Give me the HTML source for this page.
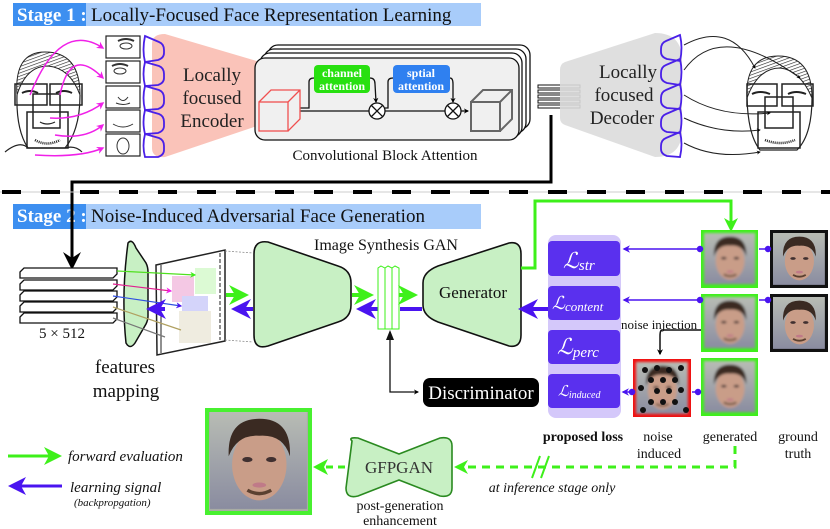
<!DOCTYPE html>
<html><head><meta charset="utf-8"><style>
html,body{margin:0;padding:0;background:#fff}
svg{display:block}
text{font-family:"Liberation Serif",serif}
</style></head><body>
<svg width="830" height="529" viewBox="0 0 830 529" xmlns="http://www.w3.org/2000/svg">
<defs>
<marker id="ag" viewBox="0 0 10 10" refX="8" refY="5" markerWidth="5" markerHeight="5" orient="auto"><path d="M0,0L10,5L0,10L3,5z" fill="#3ef01a"/></marker>
<marker id="ab" viewBox="0 0 10 10" refX="8" refY="5" markerWidth="5" markerHeight="5" orient="auto"><path d="M0,0L10,5L0,10L3,5z" fill="#4a14f0"/></marker>
<marker id="ak" viewBox="0 0 10 10" refX="8" refY="5" markerWidth="4" markerHeight="4" orient="auto"><path d="M0,0L10,5L0,10L3,5z" fill="#000"/></marker>
<marker id="am" viewBox="0 0 10 10" refX="8" refY="5" markerWidth="5" markerHeight="5" orient="auto"><path d="M0,0L10,5L0,10L3,5z" fill="#f020e8"/></marker>
<linearGradient id="fbg" x1="0" y1="0" x2="0" y2="1"><stop offset="0" stop-color="#b8bcb4"/><stop offset="1" stop-color="#8a8ca0"/></linearGradient>
<pattern id="hatch" width="3" height="3" patternUnits="userSpaceOnUse" patternTransform="rotate(70)"><rect width="3" height="3" fill="#fff"/><line x1="0" y1="0" x2="0" y2="3" stroke="#222" stroke-width="1.2"/></pattern>
<g id="face">
<rect width="57" height="57" fill="url(#fbg)"/>
<ellipse cx="29" cy="31" rx="16" ry="21" fill="#c99d88"/>
<path d="M11,26 Q10,4 29,4 Q48,4 47,26 Q43,13 29,14 Q16,13 11,26z" fill="#3a2a22"/>
<ellipse cx="22" cy="28" rx="3" ry="1.5" fill="#403030"/><ellipse cx="36" cy="28" rx="3" ry="1.5" fill="#403030"/>
<path d="M22,46 Q29,50 36,46" stroke="#5a4030" stroke-width="2" fill="none"/>
<ellipse cx="29" cy="43" rx="4" ry="1.5" fill="#c07a88"/>
</g>
<filter id="bl"><feGaussianBlur stdDeviation="1.6"/></filter>
</defs>

<rect x="13" y="3" width="73" height="23" fill="#3d8ff0"/>
<rect x="86" y="3" width="395" height="23" fill="#a8ccfa"/>
<text x="17" y="21" font-size="19" font-weight="bold" fill="#fff">Stage 1 :</text>
<text x="91" y="21" font-size="19" fill="#111">Locally-Focused Face Representation Learning</text>

<!-- left sketch face -->
<path d="M17,95 Q14,52 45,52 Q80,52 80,95 Q70,68 48,66 Q26,66 17,95z" fill="url(#hatch)" stroke="#222" stroke-width="1"/>
<g fill="none" stroke="#222" stroke-width="1.2">
<path d="M17,95 Q16,130 28,148 L65,148 Q80,130 80,95"/>
<path d="M5,152 Q20,140 28,148 M65,148 Q75,145 82,152"/>
<rect x="15" y="84" width="32" height="21" stroke-width="1.5"/>
<rect x="50" y="84" width="32" height="21" stroke-width="1.5"/>
<rect x="33" y="94" width="27" height="34" stroke-width="1.5"/>
<rect x="27" y="112" width="41" height="36" stroke-width="1.5"/>
<path d="M22,93 Q30,89 38,93 M56,93 Q64,89 72,93" stroke-width="2"/>
<path d="M40,122 Q47,126 55,122"/>
<path d="M35,140 Q47,147 60,140" stroke-width="2.5" stroke-dasharray="1,1"/>
</g>
<!-- right sketch face -->
<path d="M747,98 Q745,56 778,56 Q812,56 812,98 Q800,70 780,68 Q758,68 747,98z" fill="url(#hatch)" stroke="#222" stroke-width="1"/>
<g fill="none" stroke="#222" stroke-width="1.2">
<path d="M747,98 Q748,135 760,150 L797,150 Q812,135 812,98"/>
<rect x="747" y="84" width="30" height="22" stroke-width="1.5"/>
<rect x="782" y="84" width="31" height="22" stroke-width="1.5"/>
<rect x="765" y="97" width="28" height="31" stroke-width="1.5"/>
<rect x="758" y="112" width="42" height="36" stroke-width="1.5"/>
<path d="M752,94 Q760,90 770,94 M788,94 Q796,90 806,94" stroke-width="2"/>
<path d="M765,140 Q780,146 795,140" stroke-width="2.5" stroke-dasharray="1,1"/>
</g>

<path d="M152,44 Q152,34 165,34 L260,62 L260,125 L165,157 Q152,158 152,148z" fill="#f9b8ad" opacity="0.85"/>
<text x="212" y="81" font-size="19" text-anchor="middle" fill="#222">Locally</text>
<text x="212" y="104" font-size="19" text-anchor="middle" fill="#222">focused</text>
<text x="212" y="127" font-size="19" text-anchor="middle" fill="#222">Encoder</text>

<g stroke="#222" stroke-width="1.2" fill="#fff">
<rect x="106" y="36" width="34" height="22"/><rect x="106" y="61" width="34" height="22"/>
<rect x="106" y="86" width="34" height="22"/><rect x="106" y="110" width="34" height="22"/>
<rect x="106" y="134" width="34" height="22"/>
</g>
<g fill="none" stroke="#333" stroke-width="1">
<ellipse cx="126" cy="46" rx="6" ry="3"/><path d="M118,41 Q126,37 134,41" stroke-width="2"/>
<ellipse cx="120" cy="71" rx="6" ry="3"/><path d="M112,66 Q120,62 128,66" stroke-width="2"/>
<path d="M118,97 Q123,104 128,97 M116,103 Q123,106 130,103"/><path d="M113,124 Q123,130 133,124"/>
<ellipse cx="123" cy="146" rx="6" ry="8"/>
</g>
<g fill="none" stroke="#4a20e8" stroke-width="1.8">
<path d="M145,36 L159,42 Q164,44 164,50 L164,53 Q164,58 158,60 L145,62 Q142,50 145,36z"/>
<path d="M145,62 L159,66 Q164,68 164,74 L164,78 Q164,83 158,85 L145,86 Q142,74 145,62z"/>
<path d="M145,86 L159,90 Q164,92 164,98 L164,102 Q164,107 158,109 L145,110 Q142,98 145,86z"/>
<path d="M145,110 L159,114 Q164,116 164,122 L164,126 Q164,131 158,133 L145,134 Q142,122 145,110z"/>
<path d="M145,134 L159,138 Q164,140 164,146 L164,150 Q164,155 158,157 L145,157 Q142,146 145,134z"/>
</g>
<g fill="none" stroke="#f020e8" stroke-width="1.5" marker-end="url(#am)">
<path d="M30,95 Q60,20 103,48"/><path d="M60,95 Q70,45 103,78"/>
<path d="M50,118 Q80,120 103,103"/><path d="M55,135 Q85,140 103,125"/>
<path d="M35,155 Q80,158 103,148"/>
</g>

<g fill="#fff" stroke="#111" stroke-width="1.3">
<rect x="268" y="45" width="262" height="84" rx="10"/>
<rect x="264" y="49" width="262" height="84" rx="10"/>
<rect x="260" y="53" width="262" height="84" rx="10"/>
</g>
<rect x="255" y="58" width="264" height="82" rx="10" fill="#f0f0f0" stroke="#111" stroke-width="1.3"/>
<rect x="314" y="65" width="56" height="28" rx="4" fill="#28e010"/>
<text x="342" y="77" font-size="12" font-weight="bold" fill="#fff" text-anchor="middle">channel</text>
<text x="342" y="90" font-size="12" font-weight="bold" fill="#fff" text-anchor="middle">attention</text>
<rect x="393" y="65" width="57" height="28" rx="4" fill="#2f80f0"/>
<text x="421" y="77" font-size="12" font-weight="bold" fill="#fff" text-anchor="middle">sptial</text>
<text x="421" y="90" font-size="12" font-weight="bold" fill="#fff" text-anchor="middle">attention</text>
<g fill="none" stroke="#111" stroke-width="1.3">
<path d="M300,111 L369,111 M385,111 L445,111"/>
<path d="M300,108 L309,108 L309,82 Q309,78 314,78"/>
<path d="M370,78 Q375,78 375,84 L376,102" marker-end="url(#ak)"/>
<path d="M385,108 L388,108 L388,82 Q388,78 393,78"/>
<path d="M450,78 Q453,78 453,84 L453,102" marker-end="url(#ak)"/>
<path d="M461,111 L468,111" marker-end="url(#ak)"/>
<circle cx="377" cy="111" r="8" fill="#fff"/><path d="M371,105L383,117M383,105L371,117"/>
<circle cx="453" cy="111" r="8" fill="#fff"/><path d="M447,105L459,117M459,105L447,117"/>
</g>
<g fill="none" stroke="#f05050" stroke-width="1.3">
<rect x="259" y="102" width="29" height="29"/><path d="M259,102 L271,90 L300,90 L300,119 L288,131 M288,102 L300,90"/>
</g>
<g fill="none" stroke="#666" stroke-width="2">
<rect x="471" y="102" width="29" height="29"/><path d="M471,102 L483,90 L512,90 L512,119 L500,131 M500,102 L512,90"/>
</g>
<text x="385" y="160" font-size="15" text-anchor="middle" fill="#111">Convolutional Block Attention</text>

<g fill="#fff" stroke="#111" stroke-width="1">
<rect x="538" y="85" width="42" height="3"/><rect x="538" y="90" width="42" height="3"/>
<rect x="538" y="95" width="42" height="3"/><rect x="538" y="100" width="42" height="3"/>
<rect x="538" y="105" width="42" height="3"/>
</g>

<path d="M565,62 L655,33 Q682,33 682,60 L682,130 Q682,157 655,157 L565,125 Q560,123 560,118 L560,70 Q560,64 565,62z" fill="#dcdcdc" opacity="0.9"/>
<text x="628" y="78" font-size="19" text-anchor="middle" fill="#222">Locally</text>
<text x="624" y="101" font-size="19" text-anchor="middle" fill="#222">focused</text>
<text x="622" y="124" font-size="19" text-anchor="middle" fill="#222">Decoder</text>
<g fill="none" stroke="#4a20e8" stroke-width="1.8">
<path d="M680,35 L666,41 Q661,43 661,49 L661,52 Q661,57 667,59 L680,61 Q683,48 680,35z"/>
<path d="M680,59 L666,65 Q661,67 661,73 L661,76 Q661,81 667,83 L680,85 Q683,72 680,59z"/>
<path d="M680,84 L666,90 Q661,92 661,98 L661,101 Q661,106 667,108 L680,109 Q683,96 680,84z"/>
<path d="M680,108 L666,114 Q661,116 661,122 L661,125 Q661,130 667,132 L680,133 Q683,120 680,108z"/>
<path d="M680,132 L666,138 Q661,140 661,146 L661,149 Q661,154 667,156 L680,157 Q683,144 680,132z"/>
</g>
<g fill="none" stroke="#222" stroke-width="1" marker-end="url(#ak)">
<path d="M684,45 Q730,20 755,68"/><path d="M684,70 Q720,20 800,78"/>
<path d="M684,95 Q720,118 770,113"/><path d="M684,118 Q720,135 760,130"/>
<path d="M684,143 Q715,160 760,152"/>
</g>

<path d="M551,115 L551,182 L72,182 L72,262" fill="none" stroke="#000" stroke-width="3"/>
<path d="M63,252 L72,270 L81,252 L72,258z" fill="#000"/>

<line x1="0" y1="192" x2="830" y2="192" stroke="#ccc" stroke-width="1"/>
<line x1="2" y1="192" x2="830" y2="192" stroke="#000" stroke-width="4" stroke-dasharray="19,20"/>

<rect x="13" y="204" width="73" height="25" fill="#3d8ff0"/>
<rect x="86" y="204" width="395" height="25" fill="#a8ccfa"/>
<text x="17" y="222" font-size="19" font-weight="bold" fill="#fff">Stage 2 :</text>
<text x="91" y="222" font-size="19" fill="#111">Noise-Induced Adversarial Face Generation</text>
<line x1="72" y1="204" x2="72" y2="229" stroke="#000" stroke-width="3"/>

<g fill="#fff" stroke="#111" stroke-width="1.3">
<path d="M20,272 L24,268 L117,268 L117,274 L113,278 L20,278z"/><path d="M20,284 L24,280 L117,280 L117,286 L113,290 L20,290z"/>
<path d="M20,295 L24,291 L117,291 L117,297 L113,301 L20,301z"/><path d="M20,306 L24,302 L117,302 L117,308 L113,312 L20,312z"/>
<path d="M20,317 L24,313 L117,313 L117,319 L113,323 L20,323z"/>
</g>
<text x="62" y="338" font-size="15" text-anchor="middle" fill="#111">5 × 512</text>

<path d="M128,243 Q132,238 136,248 L146,263 Q148,267 148,272 L148,316 Q148,320 146,324 L135,343 Q130,350 126,343 Q121,295 128,243z" fill="#c8f0c4" stroke="#111" stroke-width="1.5"/>
<text x="125" y="373" font-size="19" text-anchor="middle" fill="#111">features</text>
<text x="126" y="397" font-size="19" text-anchor="middle" fill="#111">mapping</text>

<path d="M156,265 L225,250 L225,341 L157,355z" fill="#fff" stroke="#222" stroke-width="1.5"/>
<line x1="161" y1="265" x2="161" y2="353" stroke="#222" stroke-width="1"/>
<line x1="220" y1="253" x2="220" y2="340" stroke="#222" stroke-width="1" stroke-dasharray="4,2"/>
<path d="M225,251 L253,253 M225,340 L253,342" stroke="#888" stroke-width="0.8" stroke-dasharray="2,1.5"/>
<rect x="172" y="276" width="22" height="26" fill="#f4c8e4"/>
<rect x="195" y="268" width="21" height="26" fill="#dcfad4"/>
<rect x="182" y="296" width="26" height="22" fill="#d4d4fa"/>
<rect x="179" y="311" width="32" height="32" fill="#efece0"/>
<g fill="none" stroke-width="1.2">
<path d="M117,271 L195,275" stroke="#50e020" marker-end="url(#ag)"/>
<path d="M113,284 L171,291" stroke="#e02090" marker-end="url(#am)"/>
<path d="M113,296 L181,306" stroke="#3050e0" marker-end="url(#ab)"/>
<path d="M113,307 L181,330" stroke="#b0a060"/>
<path d="M113,318 L165,337" stroke="#777"/>
</g>
<path d="M226,295 L245,295" stroke="#3ef01a" stroke-width="4" marker-end="url(#ag)"/>
<path d="M253,309 L235,309" stroke="#4a14f0" stroke-width="4" marker-end="url(#ab)"/>
<path d="M165,309 L150,309" stroke="#4a14f0" stroke-width="4" marker-end="url(#ab)"/>

<path d="M254,254 Q254,240 268,242 L338,266 Q351,270 351,283 L351,305 Q351,318 338,322 L268,346 Q254,350 254,335z" fill="#c8f0c4" stroke="#111" stroke-width="1.6"/>
<text x="386" y="250" font-size="16" text-anchor="middle" fill="#111">Image Synthesis GAN</text>
<path d="M352,295 L370,295" stroke="#3ef01a" stroke-width="4" marker-end="url(#ag)"/>
<path d="M378,309 L360,309" stroke="#4a14f0" stroke-width="4" marker-end="url(#ab)"/>
<g fill="#fff" stroke="#3ef01a" stroke-width="1">
<path d="M378,268 L381,266 L385,268 L385,329 L378,329z"/>
<path d="M385,268 L388,266 L392,268 L392,329 L385,329z"/>
<path d="M392,268 L395,266 L399,268 L399,329 L392,329z"/>
</g>
<path d="M399,295 L414,295" stroke="#3ef01a" stroke-width="4" marker-end="url(#ag)"/>
<path d="M422,309 L400,309" stroke="#4a14f0" stroke-width="4"/>

<path d="M509,243 Q521,241 521,254 L521,335 Q521,348 509,346 L438,322 Q423,316 423,305 L423,283 Q423,272 438,266z" fill="#c8f0c4" stroke="#111" stroke-width="1.6"/>
<text x="473" y="298" font-size="17" text-anchor="middle" fill="#111">Generator</text>
<path d="M548,309 L522,309" stroke="#4a14f0" stroke-width="4" marker-end="url(#ab)"/>
<path d="M521,268 L535,268 L535,201 L731,201 L731,222" fill="none" stroke="#3ef01a" stroke-width="3"/>
<path d="M724,218 L731,232 L738,218 L731,222z" fill="#3ef01a"/>

<path d="M390,332 L390,392 L418,392" fill="none" stroke="#111" stroke-width="1.3" marker-end="url(#ak)"/>
<path d="M386,340 L390,330 L394,340z" fill="#111"/>
<rect x="423" y="378" width="116" height="29" rx="7" fill="#000"/>
<text x="481" y="399" font-size="19" text-anchor="middle" fill="#fff">Discriminator</text>

<rect x="548" y="235" width="73" height="183" rx="8" fill="#d4c8fa"/>
<g fill="#5a30ee">
<rect x="548" y="241" width="72" height="35" rx="4"/>
<rect x="548" y="286" width="72" height="34" rx="4"/>
<rect x="548" y="330" width="72" height="34" rx="4"/>
<rect x="548" y="374" width="72" height="34" rx="4"/>
</g>
<g fill="#fff" font-style="italic">
<text x="563" y="268" font-size="22">ℒ<tspan font-size="15" dy="2">str</tspan></text>
<text x="552" y="309" font-size="18">ℒ<tspan font-size="13" dy="2">content</tspan></text>
<text x="557" y="354" font-size="22">ℒ<tspan font-size="15" dy="3">perc</tspan></text>
<text x="558" y="396" font-size="15">ℒ<tspan font-size="10" dy="2">induced</tspan></text>
</g>

<rect x="701" y="230" width="57" height="58" fill="#3ef01a"/>
<g transform="translate(704,233) scale(0.9)" filter="url(#bl)"><use href="#face"/></g>
<rect x="701" y="294" width="57" height="58" fill="#3ef01a"/>
<g transform="translate(704,297) scale(0.9)" filter="url(#bl)"><use href="#face"/></g>
<rect x="701" y="358" width="57" height="58" fill="#3ef01a"/>
<g transform="translate(704,361) scale(0.9)" filter="url(#bl)"><use href="#face"/></g>
<rect x="770" y="230" width="58" height="58" fill="#111"/>
<g transform="translate(773,233) scale(0.91)"><use href="#face"/></g>
<rect x="770" y="294" width="58" height="58" fill="#111"/>
<g transform="translate(773,297) scale(0.91)"><use href="#face"/></g>
<rect x="633" y="359" width="58" height="58" fill="#f01010"/>
<g transform="translate(636,362) scale(0.91)" filter="url(#bl)"><use href="#face"/></g>
<g fill="#111">
<circle cx="645" cy="370" r="3"/><circle cx="657" cy="368" r="3"/><circle cx="669" cy="370" r="3"/><circle cx="681" cy="368" r="3"/>
<circle cx="651" cy="380" r="3"/><circle cx="663" cy="380" r="3"/><circle cx="675" cy="380" r="3"/><circle cx="641" cy="388" r="3"/>
<circle cx="657" cy="391" r="3"/><circle cx="669" cy="391" r="3"/><circle cx="681" cy="390" r="3"/><circle cx="651" cy="402" r="3"/>
<circle cx="663" cy="402" r="3"/><circle cx="675" cy="402" r="3"/><circle cx="643" cy="410" r="3"/><circle cx="686" cy="410" r="3"/>
</g>
<g stroke="#4a14f0" stroke-width="1.5" fill="none">
<path d="M700,249 L624,249" marker-end="url(#ab)"/><circle cx="700" cy="249" r="2.5" fill="#4a14f0"/>
<path d="M700,300 L624,300" marker-end="url(#ab)"/><circle cx="700" cy="300" r="2.5" fill="#4a14f0"/>
<path d="M759,249 L768,249"/><circle cx="768" cy="249" r="2.5" fill="#4a14f0"/>
<path d="M759,300 L768,300"/><circle cx="768" cy="300" r="2.5" fill="#4a14f0"/>
<path d="M632,392 L623,392" marker-end="url(#ab)"/><circle cx="632" cy="392" r="2.5" fill="#4a14f0"/>
<path d="M692,392 L700,392"/><circle cx="698" cy="392" r="2.5" fill="#4a14f0"/>
</g>
<text x="621" y="329" font-size="13" fill="#111">noise injection</text>
<path d="M701,330 L662,330 Q660,330 660,336 L660,354" fill="none" stroke="#111" stroke-width="1.5" marker-end="url(#ak)"/>

<text x="583" y="441" font-size="14" font-weight="bold" text-anchor="middle" fill="#111">proposed loss</text>
<text x="658" y="441" font-size="14" text-anchor="middle" fill="#111">noise</text>
<text x="659" y="458" font-size="14" text-anchor="middle" fill="#111">induced</text>
<text x="730" y="441" font-size="14" text-anchor="middle" fill="#111">generated</text>
<text x="798" y="441" font-size="14" text-anchor="middle" fill="#111">ground</text>
<text x="798" y="458" font-size="14" text-anchor="middle" fill="#111">truth</text>

<path d="M735,446 L735,467 L466,467" fill="none" stroke="#3ef01a" stroke-width="3" stroke-dasharray="8,6"/>
<path d="M468,460 L454,467 L468,474 L464,467z" fill="#3ef01a"/>
<path d="M532,478 L540,456 M541,478 L549,456" stroke="#3ef01a" stroke-width="2"/>
<text x="552" y="492" font-size="14" font-style="italic" text-anchor="middle" fill="#111">at inference stage only</text>
<path d="M352,441 Q348,437 358,438 L399,454 L440,438 Q452,436 452,446 L452,488 Q452,498 440,496 L399,480 L358,496 Q346,499 346,488z" fill="#c8f0c4" stroke="#2a8a20" stroke-width="1.6"/>
<text x="399" y="473" font-size="17" text-anchor="middle" fill="#333">GFPGAN</text>
<path d="M345,467 L322,467" stroke="#3ef01a" stroke-width="3" stroke-dasharray="7,5"/>
<path d="M328,459 L313,467 L328,475 L324,467z" fill="#3ef01a"/>
<text x="400" y="510" font-size="14" text-anchor="middle" fill="#111">post-generation</text>
<text x="400" y="525" font-size="14" text-anchor="middle" fill="#111">enhancement</text>

<rect x="205" y="408" width="107" height="107" fill="#48f030"/>
<rect x="209" y="412" width="99" height="99" fill="#a8aca4"/>
<g transform="translate(210,412) scale(1.7)"><use href="#face"/></g>

<path d="M8,456 L50,456" stroke="#3ef01a" stroke-width="3"/>
<path d="M44,447 L62,456 L44,465 L49,456z" fill="#3ef01a"/>
<text x="68" y="461" font-size="15" font-style="italic" fill="#111">forward evaluation</text>
<path d="M20,486 L62,486" stroke="#4a14f0" stroke-width="3"/>
<path d="M26,477 L8,486 L26,495 L21,486z" fill="#4a14f0"/>
<text x="70" y="492" font-size="15" font-style="italic" fill="#111">learning signal</text>
<text x="74" y="506" font-size="11" font-style="italic" fill="#111">(backpropgation)</text>
</svg>
</body></html>
